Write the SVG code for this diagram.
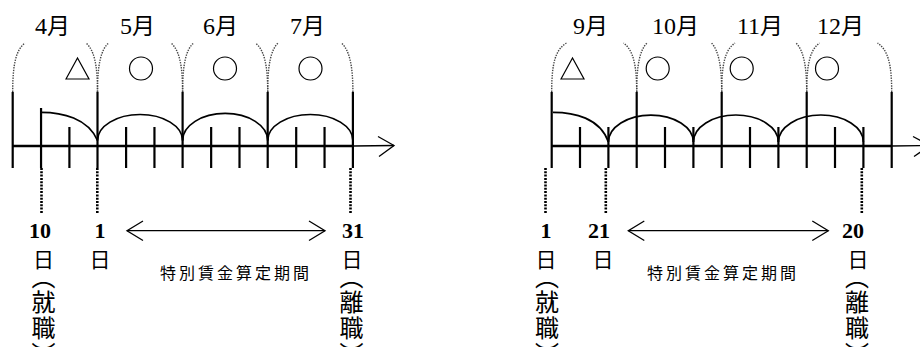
<svg xmlns="http://www.w3.org/2000/svg" width="920" height="347" viewBox="0 0 920 347">
<style>
  .axis{stroke:#000;stroke-width:2.4;fill:none}
  .tick{stroke:#000;stroke-width:2.2;fill:none}
  .arc{stroke:#000;stroke-width:1.7;fill:none}
  .brace{stroke:#444;stroke-width:1.4;stroke-dasharray:1.4 1.2;fill:none}
  .drop{stroke:#000;stroke-width:2.6;stroke-dasharray:2 1.3;fill:none}
  .thin{stroke:#000;stroke-width:1.3;fill:none}
  .sym{stroke:#000;stroke-width:1.2;fill:none}
  .month{font-family:"Noto Sans CJK JP",sans-serif;font-size:23px;fill:#000}
  .num{font-family:"Liberation Serif","DejaVu Serif","Noto Serif","Times New Roman",serif;font-size:24px}
  .day{font-family:"Liberation Serif","DejaVu Serif","Noto Serif","Times New Roman",serif;font-size:22px;font-weight:bold;fill:#000;text-anchor:middle}
  .hi{font-family:"Noto Sans CJK JP",sans-serif;font-size:21px;fill:#000;text-anchor:middle}
  .vc{font-family:"Noto Sans CJK JP",sans-serif;font-size:24px;fill:#000;text-anchor:middle}
  .period{font-family:"Noto Sans CJK JP",sans-serif;font-size:16px;letter-spacing:3px;fill:#000}
</style>

<!-- LEFT TIMELINE -->
<g id="left-timeline">
  <g id="left-axis">
    <line class="axis" x1="12.7" y1="146" x2="352.9" y2="146"/>
    <line class="thin" x1="352.9" y1="146" x2="394" y2="145.5"/>
    <polyline class="thin" points="378,136.5 394,145.5 379,156.5"/>
  </g>
  <g id="left-ticks">
    <line class="tick" x1="12.7" y1="92" x2="12.7" y2="168"/>
    <line class="tick" x1="41.05" y1="108" x2="41.05" y2="168"/>
    <line class="tick" x1="69.4" y1="127" x2="69.4" y2="168"/>
    <line class="tick" x1="97.5" y1="92" x2="97.5" y2="168"/>
    <line class="tick" x1="126.1" y1="127" x2="126.1" y2="168"/>
    <line class="tick" x1="154.45" y1="127" x2="154.45" y2="168"/>
    <line class="tick" x1="182.6" y1="92" x2="182.6" y2="168"/>
    <line class="tick" x1="211.15" y1="127" x2="211.15" y2="168"/>
    <line class="tick" x1="239.5" y1="127" x2="239.5" y2="168"/>
    <line class="tick" x1="267.7" y1="92" x2="267.7" y2="168"/>
    <line class="tick" x1="296.2" y1="127" x2="296.2" y2="168"/>
    <line class="tick" x1="324.55" y1="127" x2="324.55" y2="168"/>
    <line class="tick" x1="352.9" y1="92" x2="352.9" y2="168"/>
  </g>
  <g id="left-arcs">
    <path class="arc" d="M41.05,112.3 C62,112.3 88,118 97.5,140.5"/>
    <path class="arc" d="M97.5,140.5 A42.5,26 0 0 1 182.6,140.5"/>
    <path class="arc" d="M182.6,140.5 A42.5,27 0 0 1 267.7,140.5"/>
    <path class="arc" d="M267.7,140.5 A42.6,26 0 0 1 352.9,140.5"/>
  </g>
  <g id="left-braces">
    <path class="brace" d="M12.7,92 C12.7,64 16,50 25,43"/>
    <path class="brace" d="M97.5,92 C97.5,64 94,50 86,43"/>
    <path class="brace" d="M97.5,92 C97.5,64 101,50 108.5,43"/>
    <path class="brace" d="M182.6,92 C182.6,64 179,50 171,43"/>
    <path class="brace" d="M182.6,92 C182.6,64 186,50 193.5,43"/>
    <path class="brace" d="M267.7,92 C267.7,64 264,50 255.5,43"/>
    <path class="brace" d="M267.7,92 C267.7,64 271,50 278,43"/>
    <path class="brace" d="M352.9,92 C352.9,64 349,50 341.5,43"/>
  </g>
  <g id="left-months">
    <text class="month" x="35" y="34"><tspan class="num">4</tspan>月</text>
    <text class="month" x="120" y="34"><tspan class="num">5</tspan>月</text>
    <text class="month" x="203" y="34"><tspan class="num">6</tspan>月</text>
    <text class="month" x="290" y="34"><tspan class="num">7</tspan>月</text>
  </g>
  <g id="left-symbols">
    <polygon class="sym" points="66,79 77.5,58 89,79"/>
    <circle class="sym" cx="141" cy="68.5" r="11.5"/>
    <circle class="sym" cx="225" cy="68.5" r="11.5"/>
    <circle class="sym" cx="310.5" cy="68.5" r="11.5"/>
  </g>
  <g id="left-drops">
    <line class="drop" x1="41.5" y1="168" x2="41.5" y2="214"/>
    <line class="drop" x1="97.3" y1="168" x2="97.3" y2="214"/>
    <line class="drop" x1="350.5" y1="168" x2="350.5" y2="214"/>
  </g>
  <g id="left-period">
    <line class="thin" x1="127" y1="230.7" x2="325" y2="230.7"/>
    <polyline class="thin" points="143,221 127,230.7 143,240.5"/>
    <polyline class="thin" points="309,221 325,230.7 309,240.5"/>
    <text class="period" x="160" y="279">特別賃金算定期間</text>
  </g>
  <g id="left-start">
    <text class="day" x="40" y="238">10</text>
    <text class="hi" x="43.5" y="267">日</text>
    <text class="vc" x="43.5" y="286">︵</text>
    <text class="vc" x="43.5" y="311">就</text>
    <text class="vc" x="43.5" y="337">職</text>
    <text class="vc" x="43.5" y="363">︶</text>
  </g>
  <g id="left-one">
    <text class="day" x="100" y="238">1</text>
    <text class="hi" x="100" y="267">日</text>
  </g>
  <g id="left-end">
    <text class="day" x="353" y="238">31</text>
    <text class="hi" x="352" y="267">日</text>
    <text class="vc" x="351.5" y="286">︵</text>
    <text class="vc" x="351.5" y="311">離</text>
    <text class="vc" x="351.5" y="337">職</text>
    <text class="vc" x="351.5" y="363">︶</text>
  </g>
</g>

<!-- RIGHT TIMELINE -->
<g id="right-timeline">
  <g id="right-axis">
    <line class="axis" x1="551.7" y1="146" x2="891.7" y2="146"/>
    <line class="thin" x1="891.7" y1="146" x2="930" y2="145.5"/>
    <polyline class="thin" points="913,136.5 930,145.5 914,156.5"/>
  </g>
  <g id="right-ticks">
    <line class="tick" x1="551.7" y1="92" x2="551.7" y2="168"/>
    <line class="tick" x1="580" y1="127" x2="580" y2="168"/>
    <line class="tick" x1="608.4" y1="127" x2="608.4" y2="168"/>
    <line class="tick" x1="636.7" y1="92" x2="636.7" y2="168"/>
    <line class="tick" x1="665" y1="127" x2="665" y2="168"/>
    <line class="tick" x1="693.4" y1="127" x2="693.4" y2="168"/>
    <line class="tick" x1="721.7" y1="92" x2="721.7" y2="168"/>
    <line class="tick" x1="750" y1="127" x2="750" y2="168"/>
    <line class="tick" x1="778.4" y1="127" x2="778.4" y2="168"/>
    <line class="tick" x1="806.7" y1="92" x2="806.7" y2="168"/>
    <line class="tick" x1="835" y1="127" x2="835" y2="168"/>
    <line class="tick" x1="863.4" y1="127" x2="863.4" y2="168"/>
    <line class="tick" x1="891.7" y1="92" x2="891.7" y2="168"/>
  </g>
  <g id="right-arcs">
    <path class="arc" d="M553,112.3 C574,112.3 600,118 608.4,142"/>
    <path class="arc" d="M608.4,142 A42.5,27 0 0 1 693.4,142"/>
    <path class="arc" d="M693.4,142 A42.5,27 0 0 1 778.4,142"/>
    <path class="arc" d="M778.4,142 A42.5,27 0 0 1 863.4,142"/>
  </g>
  <g id="right-braces">
    <path class="brace" d="M551.7,92 C551.7,64 555,50 566.5,43"/>
    <path class="brace" d="M636.7,92 C636.7,64 633,50 623.5,43"/>
    <path class="brace" d="M636.7,92 C636.7,64 640,50 647,43"/>
    <path class="brace" d="M721.7,92 C721.7,64 718,50 711.5,43"/>
    <path class="brace" d="M721.7,92 C721.7,64 725,50 735,43"/>
    <path class="brace" d="M806.7,92 C806.7,64 803,50 796,43"/>
    <path class="brace" d="M806.7,92 C806.7,64 810,50 819.5,43"/>
    <path class="brace" d="M891.7,92 C891.7,64 888,50 877.5,43"/>
  </g>
  <g id="right-months">
    <text class="month" x="573" y="34"><tspan class="num">9</tspan>月</text>
    <text class="month" x="652" y="34"><tspan class="num">10</tspan>月</text>
    <text class="month" x="737" y="34"><tspan class="num">11</tspan>月</text>
    <text class="month" x="817" y="34"><tspan class="num">12</tspan>月</text>
  </g>
  <g id="right-symbols">
    <polygon class="sym" points="561,79 572.5,58 584,79"/>
    <circle class="sym" cx="657.7" cy="68.5" r="11.5"/>
    <circle class="sym" cx="741.7" cy="68.5" r="11.5"/>
    <circle class="sym" cx="827" cy="68.5" r="11.5"/>
  </g>
  <g id="right-drops">
    <line class="drop" x1="545.5" y1="168" x2="545.5" y2="214"/>
    <line class="drop" x1="605.8" y1="168" x2="605.8" y2="214"/>
    <line class="drop" x1="861.8" y1="168" x2="861.8" y2="214"/>
  </g>
  <g id="right-period">
    <line class="thin" x1="628.3" y1="230.7" x2="828.3" y2="230.7"/>
    <polyline class="thin" points="644.3,221 628.3,230.7 644.3,240.5"/>
    <polyline class="thin" points="812.3,221 828.3,230.7 812.3,240.5"/>
    <text class="period" x="647" y="279">特別賃金算定期間</text>
  </g>
  <g id="right-start">
    <text class="day" x="546" y="238">1</text>
    <text class="hi" x="546" y="267">日</text>
    <text class="vc" x="547" y="286">︵</text>
    <text class="vc" x="547" y="311">就</text>
    <text class="vc" x="547" y="337">職</text>
    <text class="vc" x="547" y="363">︶</text>
  </g>
  <g id="right-twentyone">
    <text class="day" x="599" y="238">21</text>
    <text class="hi" x="603" y="267">日</text>
  </g>
  <g id="right-end">
    <text class="day" x="853" y="238">20</text>
    <text class="hi" x="858" y="267">日</text>
    <text class="vc" x="857" y="286">︵</text>
    <text class="vc" x="857" y="311">離</text>
    <text class="vc" x="857" y="337">職</text>
    <text class="vc" x="857" y="363">︶</text>
  </g>
</g>
</svg>
